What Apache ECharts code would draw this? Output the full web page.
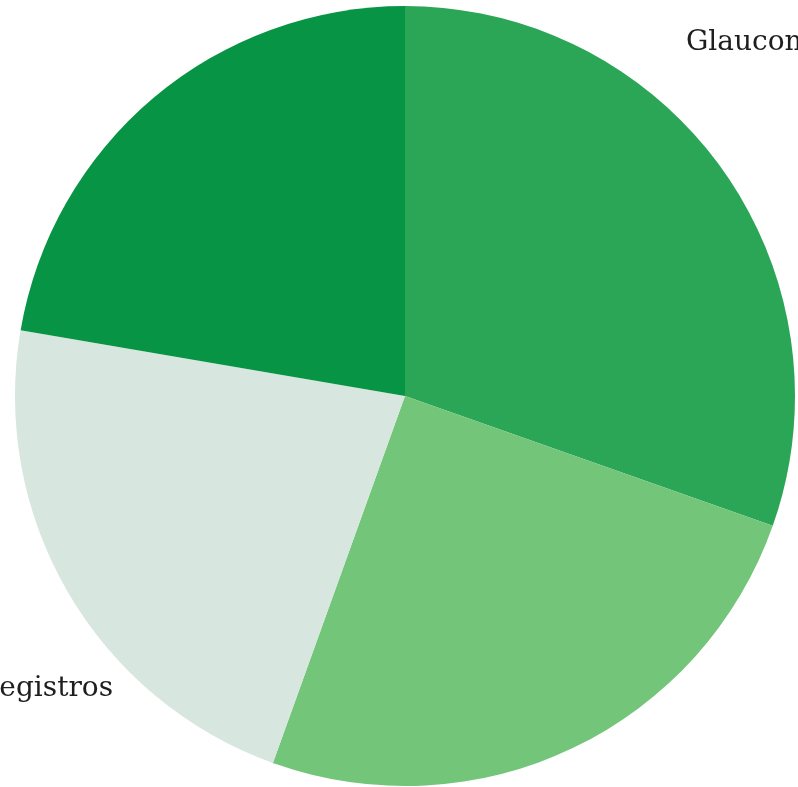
<!DOCTYPE html>
<html>
<head>
<meta charset="utf-8">
<script src="https://cdn.jsdelivr.net/npm/echarts@6/dist/echarts.min.js"></script>
<style>html,body{margin:0;padding:0;background:#fff;}#c{width:798px;height:787px;}</style>
</head>
<body>
<div id="c"></div>
<script>
var categories = ['Glaucoma', 'Otros', 'Sin registros', 'Catarata'];
var values = [30.4, 25.1, 22.2, 22.3];
var colors = ['#2ba656', '#73c579', '#d7e6de', '#079444'];
var showLabel = [true, false, true, false];

var chart = echarts.init(document.getElementById('c'));
var data = categories.map(function (n, i) {
  return {
    name: n, value: values[i],
    itemStyle: { color: colors[i] },
    label: { show: showLabel[i] }
  };
});
chart.setOption({
  animation: false,
  series: [{
    type: 'pie',
    center: ['405px', '396px'],
    radius: [0, 390],
    startAngle: 90,
    clockwise: true,
    data: data,
    labelLine: { show: false },
    label: {
      position: 'inside',
      fontFamily: 'DejaVu Serif',
      fontSize: 28,
      color: '#1e1e1e',
      formatter: '{b}'
    },
    labelLayout: function (p) {
      if (p.dataIndex === 0) return { x: 686, y: 43, align: 'left', verticalAlign: 'middle' };
      if (p.dataIndex === 2) return { x: 113, y: 689, align: 'right', verticalAlign: 'middle' };
      return {};
    },
    emphasis: { disabled: true }
  }]
});
</script>
</body>
</html>
